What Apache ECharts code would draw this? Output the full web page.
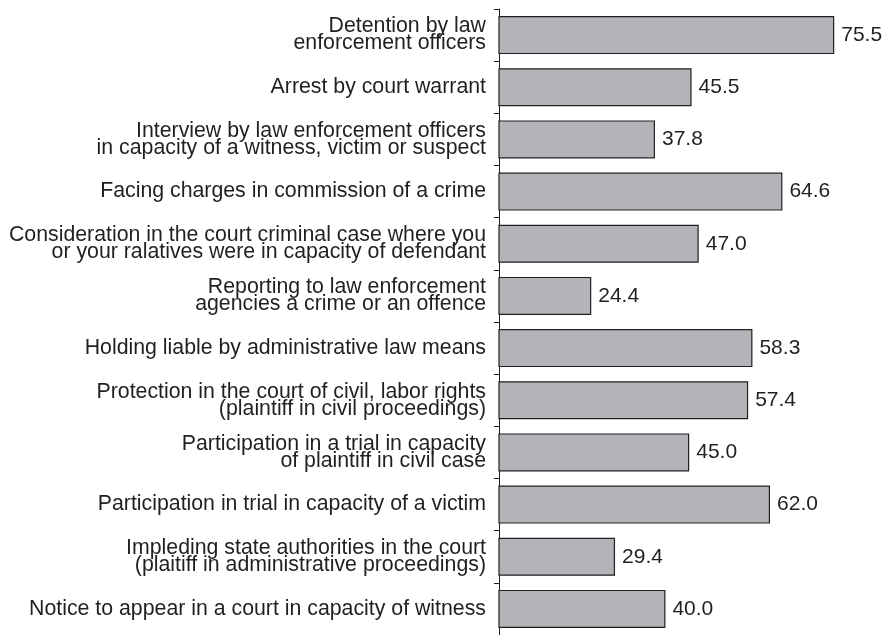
<!DOCTYPE html>
<html>
<head>
<meta charset="utf-8">
<script src="https://cdn.jsdelivr.net/npm/echarts@6/dist/echarts.min.js"></script>
<style>
html, body { margin: 0; padding: 0; background: #fff; }
#chart { width: 885px; height: 635px; }
</style>
</head>
<body>
<div id="chart"></div>
<script>
// categories, top to bottom
var categories = [
    'Detention by law\nenforcement officers',
    'Arrest by court warrant',
    'Interview by law enforcement officers\nin capacity of a witness, victim or suspect',
    'Facing charges in commission of a crime',
    'Consideration in the court criminal case where you\nor your ralatives were in capacity of defendant',
    'Reporting to law enforcement\nagencies a crime or an offence',
    'Holding liable by administrative law means',
    'Protection in the court of civil, labor rights\n(plaintiff in civil proceedings)',
    'Participation in a trial in capacity\nof plaintiff in civil case',
    'Participation in trial in capacity of a victim',
    'Impleding state authorities in the court\n(plaitiff in administrative proceedings)',
    'Notice to appear in a court in capacity of witness'
];
var values = [75.5, 45.5, 37.8, 64.6, 47.0, 24.4, 58.3, 57.4, 45.0, 62.0, 29.4, 40.0];

var textColor = '#231f20';

var myChart = echarts.init(document.getElementById('chart'));
var option = {
    animation: false,
    grid: {
        left: 499,
        right: 5.6,
        top: 9,
        height: 628
    },
    xAxis: {
        type: 'value',
        min: 5,
        max: 85,
        show: false
    },
    yAxis: {
        type: 'category',
        inverse: true,
        data: categories,
        axisLine: {
            lineStyle: {color: textColor, width: 1}
        },
        axisTick: {
            show: true,
            interval: 0,
            inside: false,
            length: 5,
            lineStyle: {color: textColor, width: 1}
        },
        axisLabel: {
            interval: 0,
            margin: 13,
            color: textColor,
            fontFamily: 'Liberation Sans',
            fontSize: 21.3,
            lineHeight: 17,
            align: 'right'
        }
    },
    series: [
        {
            type: 'bar',
            data: values,
            barCategoryGap: '27%',
            itemStyle: {
                color: '#b3b4b7',
                borderColor: textColor,
                borderWidth: 1.2
            },
            label: {
                show: true,
                position: 'right',
                distance: 7,
                color: textColor,
                fontFamily: 'Liberation Sans',
                fontSize: 21,
                formatter: function (p) { return p.value.toFixed(1); }
            }
        }
    ]
};
myChart.setOption(option);
</script>
</body>
</html>
